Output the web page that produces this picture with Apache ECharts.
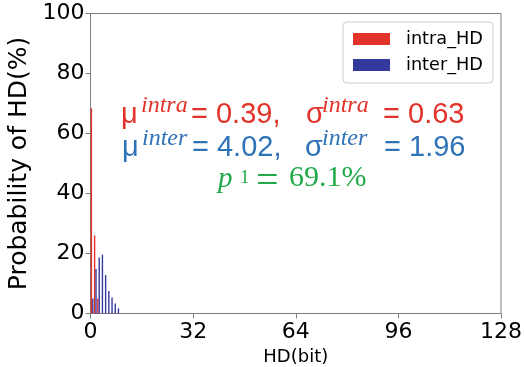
<!DOCTYPE html>
<html>
<head>
<meta charset="utf-8">
<script src="https://cdn.jsdelivr.net/npm/echarts@6/dist/echarts.min.js"></script>
<style>
html,body{margin:0;padding:0;background:#fff;}
#chart{width:524px;height:367px;}
</style>
</head>
<body>
<div id="chart"></div>
<script>
// ---- data ----
var intraBins = [0, 1, 2];
var intraValues = [68.4, 26, 5];
var interBins = [0, 1, 2, 3, 4, 5, 6, 7, 8];
var interValues = [5, 14.8, 18.7, 19.6, 12.8, 7.5, 5.3, 3.3, 1.7];
var xTicks = [0, 32, 64, 96, 128];
var yTicks = [0, 20, 40, 60, 80, 100];
var seriesNames = ['intra_HD', 'inter_HD'];

var RED = '#e2332a', BLUE = '#34399d';
var TXT_RED = '#e2332a', TXT_BLUE = '#2e72b8', TXT_GREEN = '#22aa4a';

function toPairs(bins, vals) {
  // histogram bin [b, b+1) -> bar placed at bin center
  return bins.map(function (b, i) { return [b + 0.5, vals[i]]; });
}

var chart = echarts.init(document.getElementById('chart'), null, {renderer: 'canvas'});

var sans = 'DejaVu Sans';
var ann = 'Liberation Sans';
var LH = 35.5;

function mainTok(color, w) {
  var o = {fontFamily: ann, fontSize: 29, lineHeight: LH, verticalAlign: 'bottom', fill: color, color: color};
  if (w) o.width = w;
  return o;
}
function supTok(color, w) {
  var o = {fontFamily: 'Liberation Serif', fontStyle: 'italic', fontSize: 24, lineHeight: 16, verticalAlign: 'top', fill: color, color: color};
  if (w) o.width = w;
  return o;
}

var option = {
  animation: false,
  backgroundColor: '#fff',
  grid: {left: 90.5, right: 23, top: 13.5, bottom: 53.5, show: true, borderColor: '#7f7f7f', borderWidth: 1,
         containLabel: false, outerBoundsMode: 'none'},
  legend: {
    data: seriesNames,
    orient: 'vertical',
    left: 343, top: 22,
    padding: [8, 10, 9, 10],
    itemWidth: 37, itemHeight: 12,
    itemGap: 8,
    backgroundColor: '#fff',
    borderColor: '#cccccc', borderWidth: 1, borderRadius: 4,
    icon: 'rect',
    textStyle: {fontFamily: sans, fontSize: 17.7, color: '#000', padding: [0, 0, 0, 11]}
  },
  xAxis: {
    type: 'value', min: xTicks[0], max: xTicks[xTicks.length - 1], interval: 32,
    name: 'HD(bit)', nameLocation: 'middle', nameGap: 35,
    nameTextStyle: {fontFamily: sans, fontSize: 18, color: '#000'},
    axisLine: {show: true, lineStyle: {color: '#7f7f7f', width: 1}},
    axisTick: {show: true, length: 5, lineStyle: {color: '#7f7f7f'}},
    axisLabel: {fontFamily: sans, fontSize: 22, color: '#000', margin: 8},
    splitLine: {show: false}
  },
  yAxis: {
    type: 'value', min: yTicks[0], max: yTicks[yTicks.length - 1], interval: 20,
    name: 'Probability of HD(%)', nameLocation: 'middle', nameGap: 40,
    nameTextStyle: {fontFamily: sans, fontSize: 25, color: '#000'},
    axisLine: {show: true, lineStyle: {color: '#7f7f7f', width: 1}},
    axisTick: {show: true, length: 5, lineStyle: {color: '#7f7f7f'}},
    axisLabel: {fontFamily: sans, fontSize: 22, color: '#000', margin: 6},
    splitLine: {show: false}
  },
  series: [
    {name: seriesNames[0], type: 'bar', data: toPairs(intraBins, intraValues), barWidth: 1.4, barGap: '0%', itemStyle: {color: RED}},
    {name: seriesNames[1], type: 'bar', data: toPairs(interBins, interValues), barWidth: 1.4, barGap: '0%', itemStyle: {color: BLUE}}
  ],
  graphic: [
    {type: 'text', left: 121, top: 93.5, z: 100, style: {
      text: '{m|μ}{s|intra}{e|= 0.39,}{g|σ}{t|intra}{a| = 0.63}',
      rich: {m: mainTok(TXT_RED, 20), s: supTok(TXT_RED, 50), e: mainTok(TXT_RED, 115), g: mainTok(TXT_RED, 16), t: supTok(TXT_RED, 53), a: mainTok(TXT_RED)}
    }},
    {type: 'text', left: 122, top: 126.5, z: 100, style: {
      text: '{m|μ}{s|inter}{e|= 4.02,}{g|σ}{t|inter}{a| = 1.96}',
      rich: {m: mainTok(TXT_BLUE, 20), s: supTok(TXT_BLUE, 50), e: mainTok(TXT_BLUE, 113), g: mainTok(TXT_BLUE, 17), t: supTok(TXT_BLUE, 54), a: mainTok(TXT_BLUE)}
    }},
    {type: 'text', left: 218, top: 158.5, z: 100, style: {
      text: '{p|p}{s|1}',
      rich: {
        p: {fontFamily: 'Liberation Serif', fontStyle: 'italic', fontSize: 29, lineHeight: LH, verticalAlign: 'bottom', fill: TXT_GREEN, width: 22},
        s: {fontFamily: 'Liberation Serif', fontSize: 19, lineHeight: 16, verticalAlign: 'top', padding: [10, 0, 0, 0], fill: TXT_GREEN, width: 17}
      }
    }},
    {type: 'text', x: 256, y: 182.5, z: 100, style: {
      text: '=', fontFamily: 'Liberation Serif', fontSize: 40, fill: TXT_GREEN, align: 'left', verticalAlign: 'middle'
    }},
    {type: 'text', left: 289, top: 163.5, z: 100, style: {
      text: '{a|69.1%}',
      rich: {a: {fontFamily: 'Liberation Serif', fontSize: 30, lineHeight: LH, verticalAlign: 'bottom', fill: TXT_GREEN}}
    }}
  ]
};
chart.setOption(option);
</script>
</body>
</html>
